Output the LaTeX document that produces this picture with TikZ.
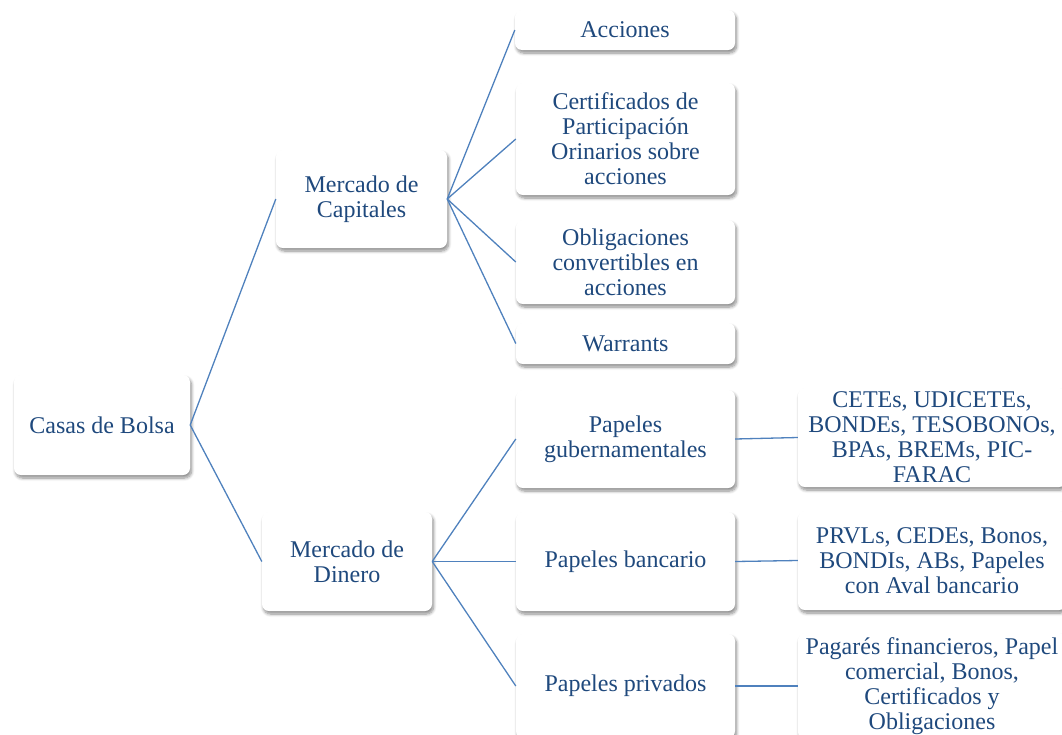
\documentclass[tikz,border=0pt]{standalone}
\usepackage{fontspec}
\setmainfont{Liberation Serif}
\newfontfamily\boxfont{Liberation Serif}
\usetikzlibrary{shadows.blur}
\definecolor{txtblue}{HTML}{1F497D}
\definecolor{lnblue}{HTML}{4F81BD}

\begin{document}
\begin{tikzpicture}[x=1pt, y=-1pt, lnk/.style={draw=lnblue, line width=1.3pt}]
\tikzstyle{box}=[fill=white, rounded corners=7pt, text=txtblue, align=center, inner sep=0pt,
  font=\boxfont\fontsize{24}{25}\selectfont,
  blur shadow={shadow xshift=1.5pt, shadow yshift=-3pt, shadow blur radius=3pt, shadow blur steps=8, shadow opacity=45}]
\useasboundingbox (0,0) rectangle (1062,734);
% root
\node[box, minimum width=176, minimum height=100] (casas) at (102,425) {Casas de Bolsa};
% mercados
\node[box, minimum width=171, minimum height=98] (mcap) at (361.5,199) {Mercado de\\Capitales};
\node[box, minimum width=170, minimum height=99] (mdin) at (347,561.5) {Mercado de\\Dinero};
% capitales
\node[box, minimum width=220, minimum height=40] (acc) at (625,30) {Acciones};
\node[box, minimum width=219, minimum height=112] (cert) at (625.5,139) {Certificados de\\Participación\\Orinarios sobre\\acciones};
\node[box, minimum width=219, minimum height=84] (oblig) at (625.5,262) {Obligaciones\\convertibles en\\acciones};
\node[box, minimum width=219, minimum height=41] (warr) at (625.5,343.5) {Warrants};
% dinero
\node[box, minimum width=219, minimum height=98] (gub) at (625.5,439) {Papeles\\gubernamentales};
\node[box, minimum width=219, minimum height=99] (banc) at (625.5,561.5) {Papeles bancario};
\node[box, minimum width=219, minimum height=104] (priv) at (625.5,686) {Papeles privados};
% instrumentos
\node[box, minimum width=268, minimum height=99] (cetes) at (932,437.5) {CETEs, UDICETEs,\\BONDEs, TESOBONOs,\\BPAs, BREMs, PIC-\\FARAC};
\node[box, minimum width=268, minimum height=99] (prvl) at (932,560.5) {PRVLs, CEDEs, Bonos,\\BONDIs, ABs, Papeles\\con Aval bancario};
\node[box, minimum width=268, minimum height=106] (pag) at (932,686) {Pagarés financieros, Papel\\comercial, Bonos,\\Certificados y\\Obligaciones};
\foreach \i/\j in {casas/mcap,casas/mdin,mcap/acc,mcap/cert,mcap/oblig,mcap/warr,mdin/gub,mdin/banc,mdin/priv,gub/cetes,banc/prvl,priv/pag}{\draw[lnk] (\i.east) -- (\j.west);}
\end{tikzpicture}
\end{document}
